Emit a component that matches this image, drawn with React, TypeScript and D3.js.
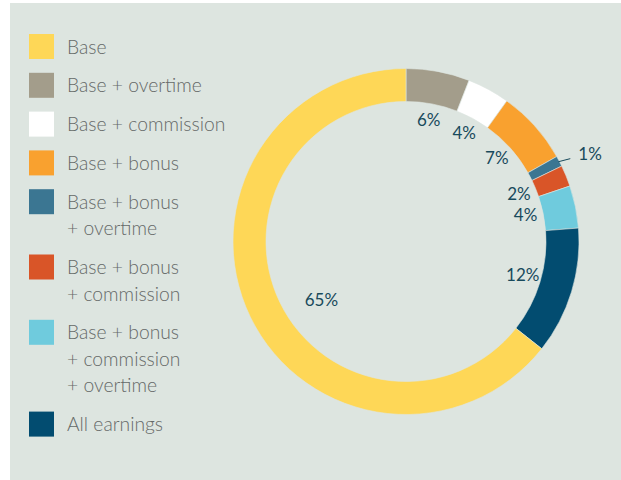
import React from 'react'
import * as d3 from 'd3'

// legend order (same order as the source key)
const categories = [
  'Base',
  'Base + overtime',
  'Base + commission',
  'Base + bonus',
  'Base + bonus\n+ overtime',
  'Base + bonus\n+ commission',
  'Base + bonus\n+ commission\n+ overtime',
  'All earnings',
]
const shares = [65, 6, 4, 7, 1, 2, 4, 12]
const colors = ['#fed757', '#a39d8b', '#ffffff', '#f9a12f', '#3b7692', '#d95528', '#6fcbdd', '#024c70']

const W = 621
const H = 480
const bg = '#dde5e0'
const cx = 406
const cy = 241.5
const outerR = 173
const innerR = 140
const labelR = 122

const App = () => {
  // ring starts at 12 o'clock with the second category, base closes the circle
  const ringIdx = d3.range(1, categories.length).concat([0])

  const pie = d3.pie<number>()
    .sort(null)
    .value(i => shares[i])
  const slices = pie(ringIdx)

  const arcGen = d3.arc<d3.PieArcDatum<number>>()
    .innerRadius(innerR)
    .outerRadius(outerR)

  const polar = (angle: number, r: number) => [
    Math.sin(angle) * r,
    -Math.cos(angle) * r,
  ]

  // legend layout: each extra text line pushes the next entry down
  const lineH = 26.5
  const step = 38.8
  let y = 34
  const legendRows = categories.map((c, i) => {
    const lines = c.split('\n')
    const row = { lines, y, color: colors[i] }
    y += step + lineH * (lines.length - 1)
    return row
  })

  return (
    <svg width={W} height={H} style={{ position: 'absolute', left: 0, top: 0 }}>
      <rect x={0} y={0} width={W} height={H} fill="#ffffff" />
      <rect x={10} y={3} width={W - 10} height={H - 3} fill={bg} />

      <g fontFamily="Lato, sans-serif" fontSize={19.3} fontWeight={300} fill="#656968">
        {legendRows.map((r, i) => (
          <g key={i}>
            <rect x={29} y={r.y} width={25} height={25} fill={r.color} />
            {r.lines.map((t, j) => (
              <text key={j} x={67} y={r.y + 19.5 + j * lineH}>{t}</text>
            ))}
          </g>
        ))}
      </g>

      <g transform={`translate(${cx},${cy})`}>
        {slices.map((s, k) => (
          <path
            key={k}
            d={arcGen(s) || ''}
            fill={colors[s.data]}
            stroke={bg}
            strokeWidth={0.6}
          />
        ))}
        <g fontFamily="Lato, sans-serif" fontSize={17} fill="#184a5c">
          {slices.map((s, k) => {
            const mid = (s.startAngle + s.endAngle) / 2
            const v = shares[s.data]
            if (v < 2) {
              const [x1, y1] = polar(mid, outerR - 1)
              const [x2, y2] = polar(mid + 0.015, outerR + 11)
              return (
                <g key={k}>
                  <line x1={x1} y1={y1} x2={x2} y2={y2} stroke="#184a5c" strokeWidth={1} />
                  <text x={x2 + 8} y={y2 + 1.5}>{v}%</text>
                </g>
              )
            }
            // the big slice label sits further in, nearer its start
            const big = v > 50
            const [lx, ly] = big
              ? polar(mid - 0.17, 104)
              : polar(mid, labelR)
            return (
              <text key={k} x={lx} y={ly} textAnchor="middle" dominantBaseline="middle">
                {v}%
              </text>
            )
          })}
        </g>
      </g>
    </svg>
  )
}

export default App
